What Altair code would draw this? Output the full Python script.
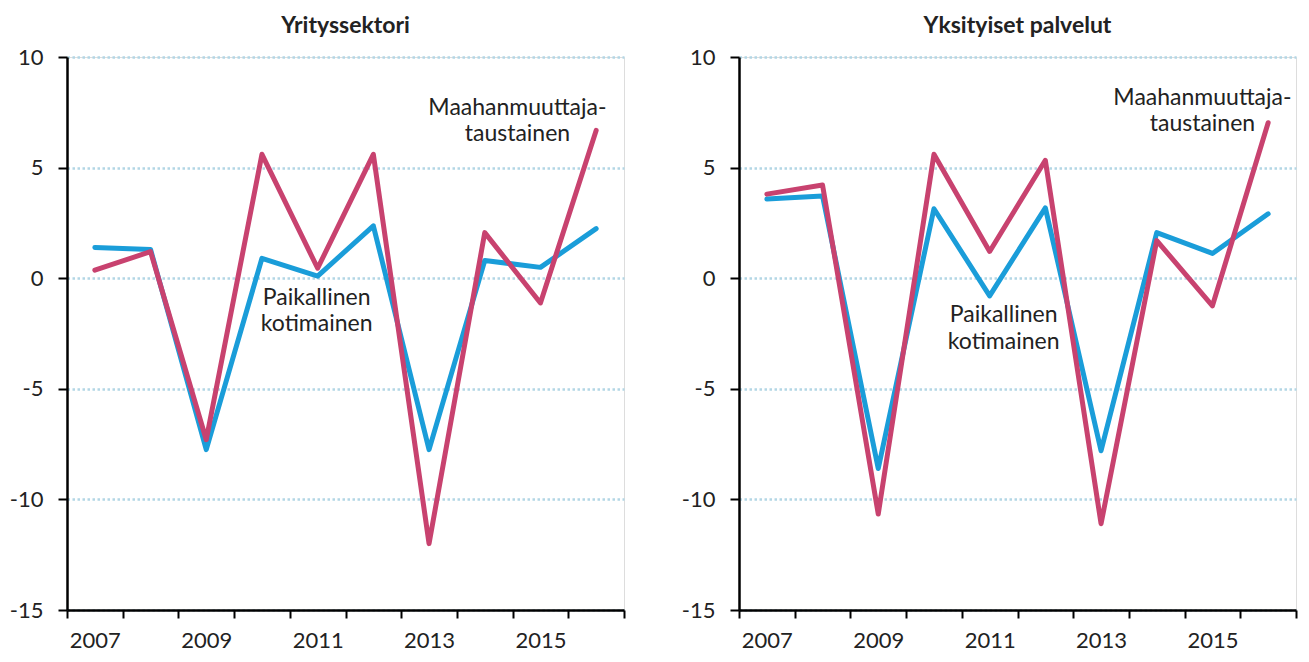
import altair as alt
import pandas as pd

years = [2007, 2008, 2009, 2010, 2011, 2012, 2013, 2014, 2015, 2016]

# Yrityssektori
yr_kotimainen = [1.39, 1.30, -7.75, 0.90, 0.09, 2.37, -7.75, 0.80, 0.49, 2.24]
yr_maahan = [0.36, 1.20, -7.30, 5.60, 0.45, 5.60, -12.0, 2.06, -1.12, 6.68]

# Yksityiset palvelut
yp_kotimainen = [3.58, 3.72, -8.60, 3.14, -0.80, 3.18, -7.80, 2.06, 1.12, 2.91]
yp_maahan = [3.80, 4.21, -10.66, 5.60, 1.21, 5.33, -11.10, 1.70, -1.25, 7.03]

panel_titles = ["Yrityssektori", "Yksityiset palvelut"]
series_names = ["Paikallinen kotimainen", "Maahanmuuttajataustainen"]
y_ticks = [-15, -10, -5, 0, 5, 10]

# annotation lines: (text, year, value at baseline)
ann_left_kot = [("Paikallinen", 2011, -1.20), ("kotimainen", 2011, -2.40)]
ann_left_maa = [("Maahanmuuttaja-", 2015, 7.40), ("taustainen", 2015, 6.20)]
ann_right_kot = [("Paikallinen", 2011, -2.00), ("kotimainen", 2011, -3.20)]
ann_right_maa = [("Maahanmuuttaja-", 2015, 7.85), ("taustainen", 2015, 6.65)]

BLUE = "#1a9dd9"
MAGENTA = "#c8426f"
FONT = "Lato"


def series_df(vals, name):
    return pd.DataFrame({"year": years, "value": vals, "series": name})


def ann_df(rows):
    return pd.DataFrame(rows, columns=["text", "year", "value"])


x_enc = alt.X(
    "year:O",
    scale=alt.Scale(type="band", paddingInner=0, paddingOuter=0),
    axis=alt.Axis(
        title=None,
        tickBand="extent",
        labelExpr="datum.value % 2 == 1 ? datum.label : ''",
        labelAngle=0,
        domainColor="black",
        domainWidth=2.5,
        tickColor="black",
        tickWidth=2,
        tickSize=8,
        labelPadding=12,
        labelFontSize=22,
        labelFont=FONT,
        labelColor="#222222",
        grid=False,
    ),
)

y_scale = alt.Scale(domain=[-15, 10], nice=False, zero=False)
y_axis = alt.Axis(
    title=None,
    values=y_ticks,
    labelExpr="datum.value < 0 ? '-' + abs(datum.value) : '' + datum.value",
    domainColor="black",
    domainWidth=2.5,
    tickColor="black",
    tickWidth=2,
    tickSize=9,
    labelPadding=15,
    labelFontSize=22,
    labelFont=FONT,
    labelColor="#222222",
    grid=True,
    gridColor="#b3d6e5",
    gridWidth=2.5,
    gridDash=[2.5, 2.5],
)


def panel(title, kot, maa, ann_kot, ann_maa, dx_kot, dx_maa):
    base_kot = alt.Chart(series_df(kot, series_names[0]))
    base_maa = alt.Chart(series_df(maa, series_names[1]))
    line_kot = base_kot.mark_line(
        color=BLUE, strokeWidth=5, strokeCap="round", strokeJoin="round"
    ).encode(x=x_enc, y=alt.Y("value:Q", scale=y_scale, axis=y_axis))
    line_maa = base_maa.mark_line(
        color=MAGENTA, strokeWidth=5, strokeCap="round", strokeJoin="round"
    ).encode(x=x_enc, y=alt.Y("value:Q", scale=y_scale, axis=y_axis))
    txt_kot = alt.Chart(ann_df(ann_kot)).mark_text(
        font=FONT, fontSize=23, color="#222222", align="center",
        baseline="alphabetic", dx=dx_kot
    ).encode(x=x_enc, y=alt.Y("value:Q", scale=y_scale, axis=y_axis), text="text:N")
    txt_maa = alt.Chart(ann_df(ann_maa)).mark_text(
        font=FONT, fontSize=23, color="#222222", align="center",
        baseline="alphabetic", dx=dx_maa
    ).encode(x=x_enc, y=alt.Y("value:Q", scale=y_scale, axis=y_axis), text="text:N")
    return alt.layer(line_kot, line_maa, txt_kot, txt_maa).properties(
        width=557,
        height=553,
        title=alt.TitleParams(
            title, font=FONT, fontSize=23, fontWeight="bold", color="#222222",
            anchor="middle", offset=8
        ),
    )


left = panel(panel_titles[0], yr_kotimainen, yr_maahan, ann_left_kot, ann_left_maa, -1, -23)
right = panel(panel_titles[1], yp_kotimainen, yp_maahan, ann_right_kot, ann_right_maa, 14, -10)

chart = (
    alt.hconcat(left, right, spacing=54)
    .properties(padding={"left": 0, "top": 6, "right": 0, "bottom": 0})
    .configure_view(stroke=None)
    .configure(background="white")
)

chart.save("out.html", embed_options={"renderer": "svg", "actions": False})
